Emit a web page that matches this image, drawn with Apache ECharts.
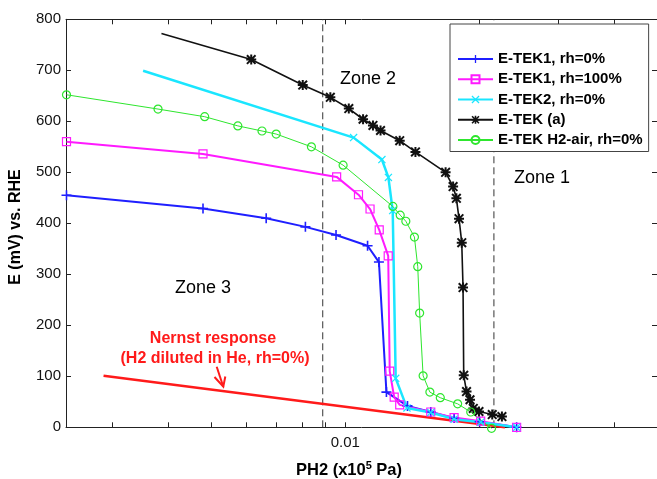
<!DOCTYPE html>
<html>
<head>
<meta charset="utf-8">
<script src="https://cdn.jsdelivr.net/npm/echarts@6/dist/echarts.min.js"></script>
<style>
  html, body { margin: 0; padding: 0; background: #fff; }
  #chart { width: 657px; height: 479px; }
</style>
</head>
<body>
<div id="chart"></div>
<script>
// H2 partial pressure (x10^5 Pa) against electrode potential E (mV vs. RHE)

const etek1DryP = [0.00237, 0.004796, 0.006646, 0.008138, 0.009532, 0.011218, 0.011896, 0.012365, 0.013786, 0.015547, 0.017537, 0.020011, 0.024222];
const etek1DryE = [455, 429, 410, 393, 377, 356, 324, 69, 42, 30, 18, 11, 0];

const etek1WetP = [0.00237, 0.004796, 0.009562, 0.010704, 0.011362, 0.011914, 0.012480, 0.012577, 0.012871, 0.013244, 0.015547, 0.017537, 0.020117, 0.024222];
const etek1WetE = [560, 536, 491, 456, 428, 387, 336, 110, 59, 44, 30, 19, 12, 0];

const etek2DryP = [0.003520, 0.010437, 0.012080, 0.012491, 0.012773, 0.012972, 0.013749, 0.015547, 0.017537, 0.020117, 0.024222];
const etek2DryE = [699, 568, 525, 490, 425, 96, 38, 29, 16, 10, 0];

const etekAP = [0.003870, 0.006152, 0.008027, 0.009256, 0.010182, 0.010960, 0.011535, 0.011995, 0.013244, 0.014364, 0.016785, 0.017447, 0.017746, 0.017989, 0.018244, 0.018366, 0.018431, 0.018700, 0.019040, 0.019364, 0.019941, 0.021354, 0.022449];
const etekAE = [772, 721, 671, 647, 625, 604, 592, 582, 562, 540, 500, 472, 449, 409, 362, 274, 102, 70, 54, 37, 31, 25, 21];

const etekAirP = [0.00237, 0.003802, 0.004838, 0.005741, 0.006504, 0.006998, 0.008394, 0.009887, 0.012785, 0.013278, 0.013669, 0.014289, 0.014535, 0.014679, 0.014945, 0.015476, 0.016330, 0.017860, 0.019110, 0.021280];
const etekAirE = [652, 624, 609, 591, 581, 575, 550, 514, 433, 416, 404, 373, 315, 224, 101, 69, 58, 46, 30, -2];

const nernstP = [0.00287, 0.0228];
const nernstE = [101, 0];

// zone boundaries (PH2)
const zoneBounds = [0.0089, 0.02154];

// axis ranges and ticks
const xMin = 0.002364;
const xMax = 0.05;
const xTickValues = [0.003, 0.004, 0.005, 0.006, 0.007, 0.008, 0.009, 0.01, 0.02, 0.03, 0.04];
const xLabelValues = [0.01];
const yMin = 0;
const yMax = 800;
const yStep = 100;

const seriesNames = ['E-TEK1, rh=0%', 'E-TEK1, rh=100%', 'E-TEK2, rh=0%', 'E-TEK (a)', 'E-TEK H2-air, rh=0%'];

const FONT = '"Liberation Sans", Arial, Helvetica, sans-serif';
const AXIS_COLOR = '#222';

// marker shapes
const SYM_PLUS = 'path://M4.2,0h1.6v10h-1.6z M0,4.2h10v1.6h-10z';
const SYM_CROSS = 'path://M0,1.1L1.1,0L10,8.9L8.9,10Z M8.9,0L10,1.1L1.1,10L0,8.9Z';
const SYM_STAR = 'path://M4,0h2v10h-2z M0,4h10v2h-10z M0,1.4L1.4,0L10,8.6L8.6,10Z M8.6,0L10,1.4L1.4,10L0,8.6Z';

function pairs(xs, ys) {
  return xs.map((x, i) => [x, ys[i]]);
}

function lineSeries(opts) {
  const data = pairs(opts.x, opts.y).map((v, i) => {
    const item = { value: v };
    if (opts.bareFirst && i === 0) item.symbol = 'none';
    return item;
  });
  return {
    name: opts.name,
    type: 'line',
    data: data,
    clip: false,
    symbol: opts.symbol,
    symbolSize: opts.size,
    showSymbol: opts.symbol !== 'none',
    lineStyle: { color: opts.color, width: opts.width, type: opts.dash || 'solid' },
    itemStyle: opts.hollow
      ? { color: 'rgba(255,255,255,0)', borderColor: opts.color, borderWidth: 1.2 }
      : { color: opts.color, borderWidth: 0 },
    emphasis: { disabled: true },
    silent: true,
    z: opts.z || 3
  };
}

// only the labelled decade gets text on the bottom axis
function xLabelText(v) {
  const hit = xLabelValues.find(t => Math.abs(Math.log10(v) - Math.log10(t)) < 1e-6);
  return hit === undefined ? '' : String(hit);
}

const chart = echarts.init(document.getElementById('chart'), null, { renderer: 'canvas' });

const xAxisBase = {
  type: 'log',
  logBase: 10,
  min: xMin,
  max: xMax,
  splitLine: { show: false },
  minorTick: { show: false },
  axisLine: { show: true, onZero: false, lineStyle: { color: AXIS_COLOR, width: 1 } },
  axisTick: { show: true, inside: true, length: 5, customValues: xTickValues, lineStyle: { color: AXIS_COLOR, width: 1 } }
};

const yAxisBase = {
  type: 'value',
  min: yMin,
  max: yMax,
  interval: yStep,
  splitLine: { show: false },
  axisLine: { show: true, onZero: false, lineStyle: { color: AXIS_COLOR, width: 1 } },
  axisTick: { show: true, inside: true, length: 5, lineStyle: { color: AXIS_COLOR, width: 1 } }
};

// dashed zone boundaries drawn as vertical two-point lines
const boundarySeries = zoneBounds.map((v, i) => lineSeries({
  name: 'boundary' + i, x: [v, v], y: [yMin, yMax], color: '#333', width: 1,
  dash: [7, 4], symbol: 'none', size: 0, z: 1
}));

const option = {
  backgroundColor: '#ffffff',
  animation: false,
  grid: { left: 66, right: -1.4, top: 19.3, bottom: 51.7, containLabel: false },
  xAxis: [
    Object.assign({}, xAxisBase, {
      position: 'bottom',
      axisLabel: { show: true, fontSize: 15, color: '#111', fontFamily: FONT, margin: 8,
        showMinLabel: false, showMaxLabel: false, hideOverlap: false,
        formatter: xLabelText }
    }),
    Object.assign({}, xAxisBase, { position: 'top', axisLabel: { show: false } })
  ],
  yAxis: [
    Object.assign({}, yAxisBase, {
      position: 'left',
      axisLabel: { show: true, fontSize: 15, color: '#111', fontFamily: FONT, margin: 5 }
    }),
    Object.assign({}, yAxisBase, { position: 'right', axisLabel: { show: false } })
  ],
  legend: {
    data: seriesNames,
    orient: 'vertical',
    left: 450,
    top: 24,
    padding: [25, 6, 1.5, 7],
    itemWidth: 35,
    itemHeight: 10,
    itemGap: 0.25,
    backgroundColor: '#ffffff',
    borderColor: '#444',
    borderWidth: 1,
    selectedMode: false,
    textStyle: { fontFamily: FONT, fontSize: 15, fontWeight: 'bold', color: '#000', lineHeight: 20 }
  },
  series: boundarySeries.concat([
    lineSeries({ name: 'Nernst', x: nernstP, y: nernstE, color: '#ff1a1a', width: 2.5, symbol: 'none', size: 0, z: 2 }),
    lineSeries({ name: seriesNames[0], x: etek1DryP, y: etek1DryE, color: '#1f1fff', width: 2, symbol: SYM_PLUS, size: 10 }),
    lineSeries({ name: seriesNames[1], x: etek1WetP, y: etek1WetE, color: '#ff1aff', width: 2, symbol: 'rect', size: 8, hollow: true }),
    lineSeries({ name: seriesNames[2], x: etek2DryP, y: etek2DryE, color: '#1ae6ff', width: 2.5, symbol: SYM_CROSS, size: 8, bareFirst: true }),
    lineSeries({ name: seriesNames[3], x: etekAP, y: etekAE, color: '#111111', width: 1.6, symbol: SYM_STAR, size: 10, bareFirst: true }),
    lineSeries({ name: seriesNames[4], x: etekAirP, y: etekAirE, color: '#2ee62e', width: 1, symbol: 'circle', size: 8, hollow: true })
  ]),
  graphic: [
    { type: 'text', x: 16, y: 227, rotation: Math.PI / 2,
      style: { text: 'E (mV) vs. RHE', font: 'bold 16px ' + FONT, fill: '#000', align: 'center', verticalAlign: 'middle' } },
    { type: 'text', x: 349, y: 470,
      style: { text: '{b|PH2 (x10}{s|5}{b| Pa)}', align: 'center', verticalAlign: 'middle', fill: '#000',
        rich: {
          b: { fontFamily: FONT, fontSize: 16.5, fontWeight: 'bold', lineHeight: 20, fill: '#000' },
          s: { fontFamily: FONT, fontSize: 11, fontWeight: 'bold', lineHeight: 20, verticalAlign: 'top', fill: '#000' }
        } } },
    { type: 'text', x: 368, y: 79,
      style: { text: 'Zone 2', font: '18px ' + FONT, fill: '#000', align: 'center', verticalAlign: 'middle' } },
    { type: 'text', x: 542, y: 178,
      style: { text: 'Zone 1', font: '18px ' + FONT, fill: '#000', align: 'center', verticalAlign: 'middle' } },
    { type: 'text', x: 203, y: 288,
      style: { text: 'Zone 3', font: '18px ' + FONT, fill: '#000', align: 'center', verticalAlign: 'middle' } },
    { type: 'text', x: 213, y: 339,
      style: { text: 'Nernst response', font: 'bold 16px ' + FONT, fill: '#ff1a1a', align: 'center', verticalAlign: 'middle' } },
    { type: 'text', x: 215, y: 359,
      style: { text: '(H2 diluted in He, rh=0%)', font: 'bold 16px ' + FONT, fill: '#ff1a1a', align: 'center', verticalAlign: 'middle' } },
    { type: 'polyline', shape: { points: [[216.7, 366.7], [223.3, 386.7]] },
      style: { stroke: '#ff1a1a', lineWidth: 2, fill: null } },
    { type: 'polyline', shape: { points: [[214.5, 377], [223.3, 386.7], [225.3, 376.5]] },
      style: { stroke: '#ff1a1a', lineWidth: 2, fill: null } }
  ]
};

chart.setOption(option);
</script>
</body>
</html>
